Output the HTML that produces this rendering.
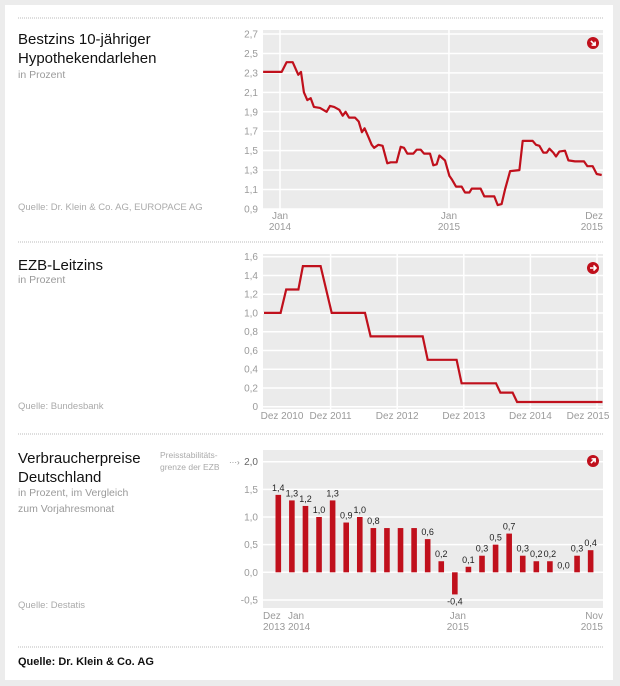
<!DOCTYPE html>
<html><head><meta charset="utf-8">
<style>
body{margin:0;background:#ececec;width:620px;height:686px;overflow:hidden;font-family:"Liberation Sans",sans-serif;}
#card{position:absolute;left:5px;top:5px;width:608px;height:675px;background:#fff;}
svg{position:absolute;left:0;top:0;}
</style></head>
<body>
<div id="card"></div>
<svg id="s" width="620" height="686"></svg>
<script>
// Chart 1: mortgage rate, month index from Jan 2014 = 0
const c1Months=[-1.2,0.12,0.47,0.9,1.3,1.49,1.7,1.94,2.18,2.41,2.84,3.31,3.55,3.84,4.21,4.45,4.66,4.9,5.33,5.59,5.82,6.01,6.25,6.51,6.68,6.99,7.29,7.62,7.86,8.28,8.57,8.81,9.04,9.47,9.71,9.99,10.23,10.65,10.89,11.13,11.32,11.72,12.03,12.22,12.5,12.9,13.14,13.45,13.62,14.25,14.51,15.22,15.46,15.74,15.98,16.34,17.0,17.24,17.95,18.18,18.42,18.7,18.94,19.13,19.41,19.6,19.84,20.24,20.48,20.95,21.59,21.83,22.21,22.49,22.85];
const c1Values=[2.31,2.31,2.41,2.41,2.28,2.31,2.1,2.02,2.04,1.95,1.94,1.90,1.96,1.95,1.92,1.86,1.90,1.84,1.84,1.80,1.69,1.73,1.65,1.56,1.53,1.56,1.55,1.37,1.38,1.38,1.54,1.53,1.47,1.47,1.51,1.51,1.47,1.47,1.35,1.36,1.45,1.40,1.24,1.20,1.13,1.13,1.07,1.07,1.11,1.11,1.03,1.03,0.94,0.95,1.10,1.29,1.30,1.60,1.60,1.56,1.55,1.48,1.48,1.52,1.48,1.44,1.49,1.50,1.40,1.39,1.39,1.34,1.34,1.26,1.25];
const c1Ticks=["2,7","2,5","2,3","2,1","1,9","1,7","1,5","1,3","1,1","0,9"];
const c1TickVals=[2.7,2.5,2.3,2.1,1.9,1.7,1.5,1.3,1.1,0.9];
// Chart 2: ECB rate, month index from Dec 2010 = 0
const c2Months=[0,3.0,4.0,6.2,7.0,10.2,12.2,18.2,19.2,28.6,29.5,34.7,35.6,41.8,42.6,44.8,45.6,61];
const c2Values=[1.0,1.0,1.25,1.25,1.5,1.5,1.0,1.0,0.75,0.75,0.5,0.5,0.25,0.25,0.15,0.15,0.05,0.05];
const c2Ticks=["1,6","1,4","1,2","1,0","0,8","0,6","0,4","0,2","0"];
const c2TickVals=[1.6,1.4,1.2,1.0,0.8,0.6,0.4,0.2,0];
const c2XLabels=["Dez 2010","Dez 2011","Dez 2012","Dez 2013","Dez 2014","Dez 2015"];
const c2XMonths=[0,12,24,36,48,60];
// Chart 3: CPI
const c3Values=[1.4,1.3,1.2,1.0,1.3,0.9,1.0,0.8,0.8,0.8,0.8,0.6,0.2,-0.4,0.1,0.3,0.5,0.7,0.3,0.2,0.2,0.0,0.3,0.4];
const c3Labels=["1,4","1,3","1,2","1,0","1,3","0,9","1,0","0,8","","","","0,6","0,2","-0,4","0,1","0,3","0,5","0,7","0,3","0,2","0,2","0,0","0,3","0,4"];
const c3Ticks=["2,0","1,5","1,0","0,5","0,0","-0,5"];
const c3TickVals=[2.0,1.5,1.0,0.5,0.0,-0.5];

const S=document.getElementById('s');const NS='http://www.w3.org/2000/svg';
function el(t,a,txt){const e=document.createElementNS(NS,t);for(const k in a)e.setAttribute(k,a[k]);if(txt!==undefined)e.textContent=txt;S.appendChild(e);return e;}
const x1=m=>280+m*14.08, y1=v=>34+(2.7-v)/1.8*175;
const x2=m=>264+m*5.55, y2=v=>406.7-v*93.75;
const x3=i=>278.3+i*13.58, y3=v=>572.3-v*55.3;
const RED='#c0101c', GRID='#fff', TK='#9a9a9a';

[18,242,434,647].forEach(y=>{const e=el('line',{x1:18,x2:603,y1:y,y2:y,stroke:'#bbb','stroke-dasharray':'1,1'});
});

function text(x,y,s,o){const a=Object.assign({x:x,y:y,'font-size':10,fill:TK,'font-family':'Liberation Sans, sans-serif'},o||{});return el('text',a,s);}
function icon(cx,cy,name,rot){const g=el('circle',{cx:cx,cy:cy,r:6,fill:RED});
 const p=el('path',{d:`M${cx-3} ${cy}H${cx+3}M${cx+0.5} ${cy-2.5}L${cx+3} ${cy}L${cx+0.5} ${cy+2.5}`,stroke:'#fff','stroke-width':1.6,fill:'none',transform:`rotate(${rot} ${cx} ${cy})`});
 }

// ---- Chart 1 ----
let t;
t=text(18,44,'Bestzins 10-jähriger',{'font-size':15,fill:'#111'});
t=text(18,63,'Hypothekendarlehen',{'font-size':15,fill:'#111'});
t=text(18,78,'in Prozent',{'font-size':10.5});
t=text(18,210,'Quelle: Dr. Klein & Co. AG, EUROPACE AG',{'font-size':9.5,fill:'#aaa'});
t=el('rect',{x:263,y:30,width:340,height:179,fill:'#ebebeb'});
c1TickVals.forEach((v,i)=>{const g=el('line',{x1:263,x2:603,y1:y1(v),y2:y1(v),stroke:GRID,'stroke-width':1.5});
 const l=text(258,y1(v)+3.5,c1Ticks[i],{'text-anchor':'end'});});
[0,12].forEach(m=>{const g=el('line',{x1:x1(m),x2:x1(m),y1:30,y2:209,stroke:GRID,'stroke-width':1.5});});
[[0,'Jan','2014','middle'],[12,'Jan','2015','middle'],[22.9,'Dez','2015','end']].forEach(a=>{
 const xx=a[3]==='end'?603:x1(a[0]);
 let l=text(xx,219,a[1],{'text-anchor':a[3]});
 l=text(xx,230,a[2],{'text-anchor':a[3]});});
let d='';c1Months.forEach((m,i)=>{d+=(i?'L':'M')+x1(m).toFixed(1)+' '+y1(c1Values[i]).toFixed(1);});
t=el('path',{d:d,stroke:RED,'stroke-width':2.2,fill:'none','stroke-linejoin':'round'});
icon(593,43,'chart1-trend-icon',45);

// ---- Chart 2 ----
t=text(18,270,'EZB-Leitzins',{'font-size':15,fill:'#111'});
t=text(18,283,'in Prozent',{'font-size':10.5});
t=text(18,409,'Quelle: Bundesbank',{'font-size':9.5,fill:'#aaa'});
t=el('rect',{x:263,y:254,width:340,height:155,fill:'#ebebeb'});
c2TickVals.forEach((v,i)=>{const g=el('line',{x1:263,x2:603,y1:y2(v),y2:y2(v),stroke:GRID,'stroke-width':1.5});
 const l=text(258,y2(v)+3.5,c2Ticks[i],{'text-anchor':'end'});});
c2XMonths.forEach((m,i)=>{if(i>0){const g=el('line',{x1:x2(m),x2:x2(m),y1:254,y2:409,stroke:GRID,'stroke-width':1.5});}
 const xx=i===0?282:(i===c2XMonths.length-1?588:x2(m));
 const l=text(xx,419,c2XLabels[i],{'text-anchor':'middle'});});
d='';c2Months.forEach((m,i)=>{d+=(i?'L':'M')+x2(m).toFixed(1)+' '+y2(c2Values[i]).toFixed(1);});
t=el('path',{d:d,stroke:RED,'stroke-width':2.2,fill:'none'});
icon(593,268,'chart2-trend-icon',0);

// ---- Chart 3 ----
t=text(18,463,'Verbraucherpreise',{'font-size':15,fill:'#111'});
t=text(18,482,'Deutschland',{'font-size':15,fill:'#111'});
t=text(18,496,'in Prozent, im Vergleich',{'font-size':10.5});
t=text(18,512,'zum Vorjahresmonat',{'font-size':10.5});
t=text(18,608,'Quelle: Destatis',{'font-size':9.5,fill:'#aaa'});
t=text(160,458,'Preisstabilitäts-',{'font-size':8.5,fill:'#aaa'});
t=text(160,470,'grenze der EZB',{'font-size':8.5,fill:'#aaa'});
t=text(229,465,'···›',{'font-size':8,fill:'#888'});
t=el('rect',{x:263,y:450,width:340,height:158,fill:'#ebebeb'});
c3TickVals.forEach((v,i)=>{const g=el('line',{x1:263,x2:603,y1:y3(v),y2:y3(v),stroke:GRID,'stroke-width':1.5});
 const l=text(258,y3(v)+3.5,c3Ticks[i],{'text-anchor':'end',fill:i===0?'#666':TK});});
c3Values.forEach((v,i)=>{const top=Math.min(y3(v),y3(0)),h=Math.abs(y3(v)-y3(0));
 const b=el('rect',{x:x3(i)-2.8,y:top,width:5.6,height:h,fill:RED});
 if(c3Labels[i]){const ly=v<0?y3(v)+10:y3(v)-4;const l=text(x3(i),ly,c3Labels[i],{'text-anchor':'middle','font-size':9,fill:'#222'});}});
[[263,'Dez','2013','start'],[288,'Jan','2014','start'],[x3(13)+3,'Jan','2015','middle'],[603,'Nov','2015','end']].forEach(a=>{
 let l=text(a[0],619,a[1],{'text-anchor':a[3]});
 l=text(a[0],630,a[2],{'text-anchor':a[3]});});
icon(593,461,'chart3-trend-icon',-45);

t=text(18,665,'Quelle: Dr. Klein & Co. AG',{'font-size':11,fill:'#111','font-weight':'bold'});
</script>
</body></html>
